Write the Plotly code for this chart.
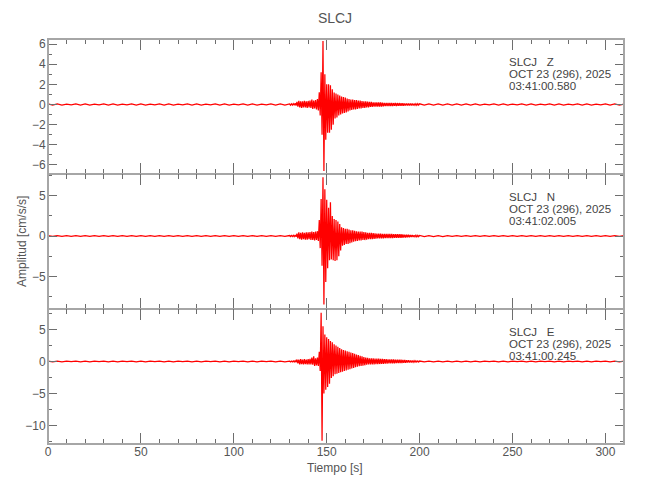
import numpy as np
import plotly.graph_objects as go

# ---------------- data ----------------
# time grid (s): coarse before/after the event, 1 s through the event
t_sec = list(range(0, 131, 5)) + list(range(131, 201)) + list(range(205, 311, 5))

pre_hi = [0.05, 0.05, 0.04, 0.05, 0.05, 0.04, 0.05, 0.05, 0.04, 0.05, 0.05, 0.04, 0.05, 0.05,
          0.04, 0.05, 0.05, 0.04, 0.05, 0.05, 0.04, 0.05, 0.05, 0.04, 0.05, 0.05, 0.06]
post_hi = [0.06, 0.06, 0.05, 0.05, 0.05, 0.05, 0.04, 0.05, 0.05, 0.04, 0.05,
           0.05, 0.04, 0.05, 0.05, 0.04, 0.05, 0.05, 0.04, 0.05, 0.05, 0.04]

# Z component: per-bin maximum / minimum (cm/s/s)
z_hi = pre_hi + [
    0.07, 0.08, 0.12, 0.25, 0.35, 0.30, 0.32, 0.35, 0.30, 0.35,
    0.40, 0.50, 0.40, 0.45, 0.55, 1.20, 3.20, 6.30, 3.00, 2.00,
    2.00, 1.90, 1.50, 1.20, 1.10, 1.00, 0.90, 0.80, 0.75, 0.70,
    0.60, 0.55, 0.50, 0.50, 0.45, 0.45, 0.40, 0.40, 0.35, 0.30,
    0.30, 0.28, 0.25, 0.25, 0.22, 0.20, 0.20, 0.20, 0.20, 0.18,
    0.16, 0.15, 0.16, 0.15, 0.15, 0.14, 0.15, 0.14, 0.14, 0.13,
    0.12, 0.11, 0.11, 0.10, 0.09, 0.09, 0.08, 0.08, 0.07, 0.07] + post_hi
z_lo = [-v for v in pre_hi] + [
    -0.07, -0.08, -0.10, -0.22, -0.30, -0.35, -0.30, -0.30, -0.35, -0.30,
    -0.35, -0.45, -0.40, -0.50, -0.60, -1.10, -3.00, -6.60, -3.50, -2.80,
    -2.80, -2.50, -2.00, -1.40, -1.30, -1.10, -1.00, -0.90, -0.85, -0.80,
    -0.70, -0.60, -0.55, -0.50, -0.50, -0.45, -0.40, -0.40, -0.35, -0.35,
    -0.30, -0.28, -0.25, -0.25, -0.22, -0.20, -0.20, -0.20, -0.20, -0.18,
    -0.16, -0.15, -0.16, -0.15, -0.15, -0.14, -0.15, -0.14, -0.14, -0.13,
    -0.12, -0.11, -0.11, -0.10, -0.09, -0.09, -0.08, -0.08, -0.07, -0.07] + [-v for v in post_hi]

# N component
n_hi = pre_hi + [
    0.07, 0.08, 0.12, 0.30, 0.45, 0.40, 0.45, 0.40, 0.45, 0.45,
    0.50, 0.55, 0.50, 0.55, 0.60, 2.00, 4.60, 7.30, 5.80, 4.50,
    3.50, 4.20, 2.50, 2.10, 2.00, 1.80, 1.50, 1.10, 1.00, 0.90,
    0.90, 0.80, 0.70, 0.70, 0.65, 0.60, 0.55, 0.55, 0.55, 0.50,
    0.45, 0.40, 0.40, 0.38, 0.35, 0.32, 0.30, 0.30, 0.30, 0.28,
    0.27, 0.26, 0.26, 0.25, 0.25, 0.24, 0.24, 0.23, 0.22, 0.22,
    0.20, 0.18, 0.16, 0.15, 0.13, 0.12, 0.10, 0.09, 0.08, 0.07] + post_hi
n_lo = [-v for v in pre_hi] + [
    -0.07, -0.08, -0.10, -0.30, -0.40, -0.45, -0.40, -0.45, -0.45, -0.40,
    -0.50, -0.50, -0.55, -0.50, -0.60, -1.50, -3.70, -8.50, -5.70, -4.00,
    -3.00, -2.90, -3.00, -3.10, -3.00, -2.50, -1.80, -1.20, -1.10, -1.00,
    -1.00, -0.90, -0.80, -0.70, -0.65, -0.60, -0.55, -0.55, -0.50, -0.50,
    -0.45, -0.40, -0.40, -0.38, -0.35, -0.32, -0.30, -0.30, -0.30, -0.28,
    -0.27, -0.26, -0.26, -0.25, -0.25, -0.24, -0.24, -0.23, -0.22, -0.22,
    -0.20, -0.18, -0.16, -0.15, -0.13, -0.12, -0.10, -0.09, -0.08, -0.07] + [-v for v in post_hi]

# E component
e_hi = pre_hi + [
    0.07, 0.08, 0.12, 0.30, 0.30, 0.35, 0.30, 0.35, 0.30, 0.35,
    0.40, 0.60, 0.80, 0.50, 0.60, 1.50, 7.60, 5.50, 4.20, 3.80,
    3.50, 3.20, 3.00, 2.70, 2.50, 2.30, 2.10, 1.90, 1.80, 1.70,
    1.60, 1.50, 1.40, 1.30, 1.20, 1.10, 1.00, 0.90, 0.80, 0.70,
    0.60, 0.55, 0.50, 0.50, 0.50, 0.45, 0.45, 0.45, 0.42, 0.40,
    0.36, 0.35, 0.34, 0.33, 0.32, 0.31, 0.30, 0.30, 0.29, 0.28,
    0.25, 0.22, 0.20, 0.18, 0.16, 0.14, 0.12, 0.10, 0.08, 0.07] + post_hi
e_lo = [-v for v in pre_hi] + [
    -0.07, -0.08, -0.12, -0.30, -0.45, -0.40, -0.45, -0.40, -0.45, -0.45,
    -0.45, -0.50, -0.70, -0.60, -0.70, -1.50, -12.40, -5.00, -4.40, -4.00,
    -3.50, -2.60, -2.30, -2.00, -1.90, -1.80, -1.70, -1.60, -1.50, -1.40,
    -1.30, -1.20, -1.10, -1.00, -0.90, -0.80, -0.75, -0.70, -0.65, -0.60,
    -0.50, -0.46, -0.45, -0.45, -0.45, -0.40, -0.40, -0.40, -0.38, -0.36,
    -0.33, -0.32, -0.31, -0.30, -0.29, -0.28, -0.27, -0.27, -0.26, -0.25,
    -0.22, -0.20, -0.18, -0.16, -0.14, -0.12, -0.11, -0.09, -0.08, -0.07] + [-v for v in post_hi]

station = "SLCJ"
components = ["Z", "N", "E"]
date_label = "OCT 23 (296), 2025"
start_times = ["03:41:00.580", "03:41:02.005", "03:41:00.245"]
y_ranges = [[-6.9, 6.5], [-9.06, 7.7], [-12.9, 8.2]]
y_dticks = [2, 5, 5]
y_minor = [1, 2.5, 2.5]
x_range = [0, 310]

# ---------------- build traces ----------------
def zigzag(t, hi, lo):
    t = np.asarray(t, float)
    step = np.diff(np.append(t, t[-1] + (t[-1] - t[-2])))
    xs, ys = [], []
    for ti, si, h, l in zip(t, step, hi, lo):
        xs += [ti, ti + si / 2]
        ys += [h, l]
    return xs, ys

FONT = "Liberation Sans, Arial, sans-serif"
AX_LINE = "#a6a6a6"
TICK_C = "#6e6e6e"
TXT = "#555555"

# page renders the figure offset by the body margin (8 px); compensate
OFF = 8
L, T, W, H = 48 - OFF, 39 - OFF, 576, 405

fig = go.Figure()
series = [(z_hi, z_lo), (n_hi, n_lo), (e_hi, e_lo)]
for i, (hi, lo) in enumerate(series):
    xs, ys = zigzag(t_sec, hi, lo)
    suffix = "" if i == 0 else str(i + 1)
    fig.add_trace(go.Scatter(x=xs, y=ys, mode="lines",
                             line=dict(color="rgb(255,0,0)", width=1.25),
                             xaxis="x" + suffix, yaxis="y" + suffix,
                             showlegend=False, hoverinfo="skip"))

domains = [[2 / 3, 1.0], [1 / 3, 2 / 3], [0.0, 1 / 3]]

layout = dict(
    width=650, height=500,
    margin=dict(l=L, r=650 - L - W, t=T, b=500 - T - H),
    paper_bgcolor="white", plot_bgcolor="white",
    font=dict(family=FONT, color=TXT, size=12),
    title=dict(text=station, x=(335 - OFF) / 650, xanchor="center", y=1 - (18 - OFF) / 500,
               yanchor="middle", font=dict(size=14, color=TXT)),
)

for i in range(3):
    suffix = "" if i == 0 else str(i + 1)
    layout["xaxis" + suffix] = dict(
        range=x_range, anchor="y" + suffix, matches="x" if i else None,
        showline=True, linecolor=AX_LINE, linewidth=1, mirror="ticks",
        ticks="inside", ticklen=11, tickwidth=1, tickcolor=TICK_C,
        tick0=0, dtick=50, showgrid=False, zeroline=False, automargin=False,
        showticklabels=(i == 2), ticklabelstandoff=-3,
        tickfont=dict(size=12, color=TXT),
        minor=dict(dtick=10, tick0=0, ticks="inside", ticklen=5, tickcolor=TICK_C, tickwidth=1, showgrid=False),
    )
    layout["yaxis" + suffix] = dict(
        range=y_ranges[i], domain=domains[i], anchor="x" + suffix,
        showline=True, linecolor=AX_LINE, linewidth=1, mirror="ticks",
        ticks="inside", ticklen=9, tickwidth=1, tickcolor=TICK_C,
        tick0=0, dtick=y_dticks[i], showgrid=False, zeroline=False, automargin=False,
        tickfont=dict(size=12, color=TXT), ticklabelstandoff=-1,
        minor=dict(dtick=y_minor[i], tick0=0, ticks="inside", ticklen=4, tickcolor=TICK_C, tickwidth=1, showgrid=False),
    )

fig.update_layout(**layout)

# outer frame (2 px)
fig.add_shape(type="rect", xref="paper", yref="paper", x0=0, x1=1, y0=0, y1=1,
              line=dict(color=AX_LINE, width=2), layer="above")

# station / date / time annotations in each panel
ann = []
line_offsets_px = [22.7, 35.0, 47.3]
for i in range(3):
    suffix = "" if i == 0 else str(i + 1)
    lines = [f"{station}   {components[i]}", date_label, start_times[i]]
    for off, txt in zip(line_offsets_px, lines):
        ann.append(dict(text=txt, xref="paper", yref=f"y{suffix} domain",
                        x=(506.5 - 48) / W, y=1 - off / 135,
                        xanchor="left", yanchor="middle", showarrow=False,
                        font=dict(size=11.5, color="#444444")))

ann.append(dict(text="Amplitud [cm/s/s]", textangle=-90, xref="paper", yref="paper",
                x=(22 - 48) / W, y=(444 - 242) / H, xanchor="center", yanchor="middle",
                showarrow=False, font=dict(size=12, color=TXT)))
ann.append(dict(text="Tiempo [s]", xref="paper", yref="paper",
                x=(335 - 48) / W, y=(444 - 468) / H, xanchor="center", yanchor="middle",
                showarrow=False, font=dict(size=12, color=TXT)))
fig.update_layout(annotations=ann)

fig.write_html("out.html")
